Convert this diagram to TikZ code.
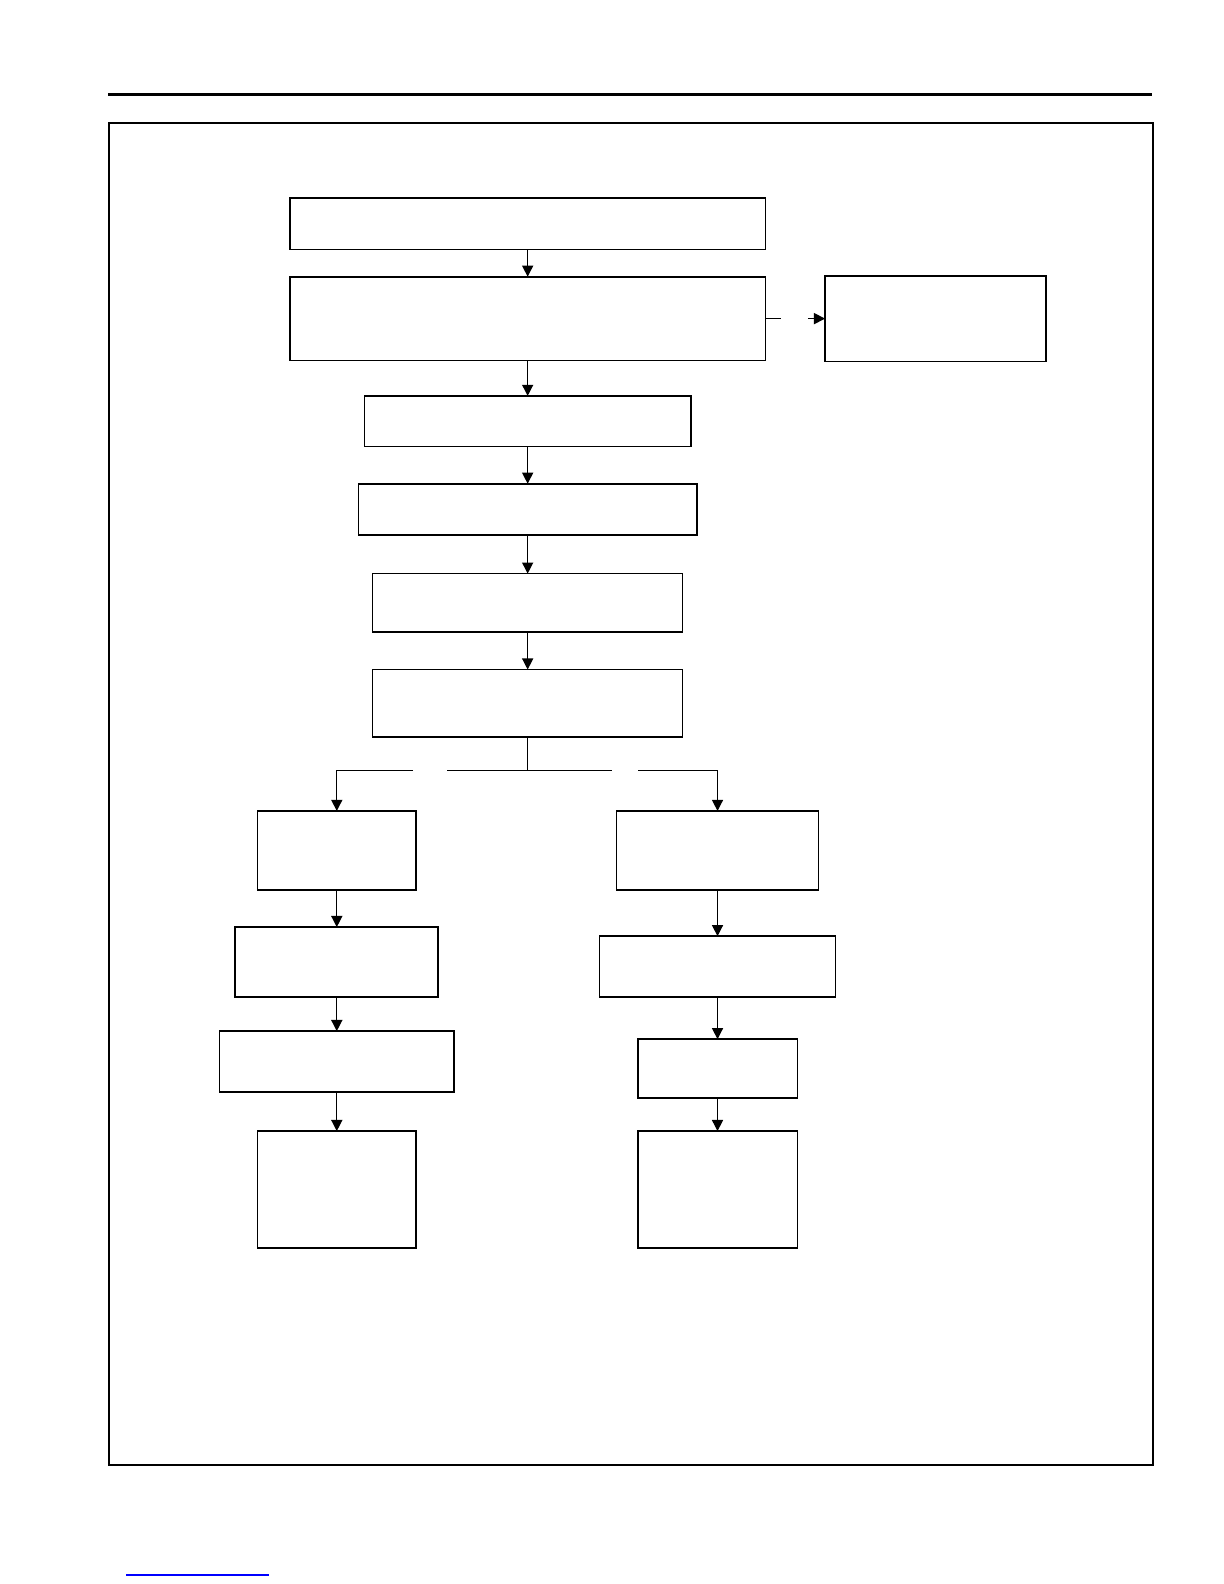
\documentclass[tikz,border=0pt]{standalone}
\usetikzlibrary{arrows.meta}
\tikzset{
  blok/.style={draw,line width=1.6pt,inner sep=0pt,outer sep=0pt},
  pijl/.style={line width=1.2pt,-{Triangle[length=11pt,width=11pt]}},
  lijn/.style={line width=1.2pt}
}

\begin{document}
\begin{tikzpicture}[x=1pt,y=-1pt]
    \useasboundingbox (0,0) rectangle (1212,1568.5);
    % kader
    \draw[line width=3pt] (107,94) -- (1141,94);
    \draw[line width=2pt] (108,122) rectangle (1142,1451);
    \draw[blue,line width=1.3pt] (125,1559.5) -- (266,1559.5);
    % blokken midden
    \node[blok,minimum width=471pt,minimum height=51pt] (b1) at (522.5,221.5) {};
    \node[blok,minimum width=471pt,minimum height=83pt] (b2) at (522.5,315.5) {};
    \node[blok,minimum width=219pt,minimum height=85pt] (zij) at (926.5,315.5) {};
    \node[blok,minimum width=323pt,minimum height=50pt] (b3) at (522.5,417) {};
    \node[blok,minimum width=335pt,minimum height=51pt] (b4) at (522.5,504.5) {};
    \node[blok,minimum width=307pt,minimum height=58pt] (b5) at (522.5,597) {};
    \node[blok,minimum width=307pt,minimum height=67pt] (b6) at (522.5,696.5) {};
    % blokken links
    \node[blok,minimum width=157pt,minimum height=78pt] (l1) at (333.5,842) {};
    \node[blok,minimum width=201pt,minimum height=69pt] (l2) at (333.5,952.5) {};
    \node[blok,minimum width=232pt,minimum height=60pt] (l3) at (333.5,1051) {};
    \node[blok,minimum width=157pt,minimum height=116pt] (l4) at (333.5,1178) {};
    % blokken rechts
    \node[blok,minimum width=200pt,minimum height=78pt] (r1) at (710.5,842) {};
    \node[blok,minimum width=234pt,minimum height=60pt] (r2) at (710.5,957) {};
    \node[blok,minimum width=158pt,minimum height=58pt] (r3) at (710.5,1058) {};
    \node[blok,minimum width=158pt,minimum height=116pt] (r4) at (710.5,1178) {};
    % coordinaten
    \coordinate (zA) at (773,315.5);
    \coordinate (zB) at (800,315.5);
    \coordinate (split) at (522.5,763);
    \coordinate (gL1) at (409,763);
    \coordinate (gL2) at (443,763);
    \coordinate (gR1) at (606,763);
    \coordinate (gR2) at (632,763);
    % pijlen
    \draw[pijl] (b1.south) -- (b2.north);
    \draw[lijn] (b2.east) -- (zA);
    \draw[pijl] (zB) -- (zij.west);
    \draw[pijl] (b2.south) -- (b3.north);
    \draw[pijl] (b3.south) -- (b4.north);
    \draw[pijl] (b4.south) -- (b5.north);
    \draw[pijl] (b5.south) -- (b6.north);
    % splitsing
    \draw[lijn] (b6.south) -- (split);
    \draw[lijn] (gL2) -- (split) -- (gR1);
    \draw[pijl] (gL1) -| (l1.north);
    \draw[pijl] (gR2) -| (r1.north);
    % links
    \draw[pijl] (l1.south) -- (l2.north);
    \draw[pijl] (l2.south) -- (l3.north);
    \draw[pijl] (l3.south) -- (l4.north);
    % rechts
    \draw[pijl] (r1.south) -- (r2.north);
    \draw[pijl] (r2.south) -- (r3.north);
    \draw[pijl] (r3.south) -- (r4.north);
\end{tikzpicture}
\end{document}
